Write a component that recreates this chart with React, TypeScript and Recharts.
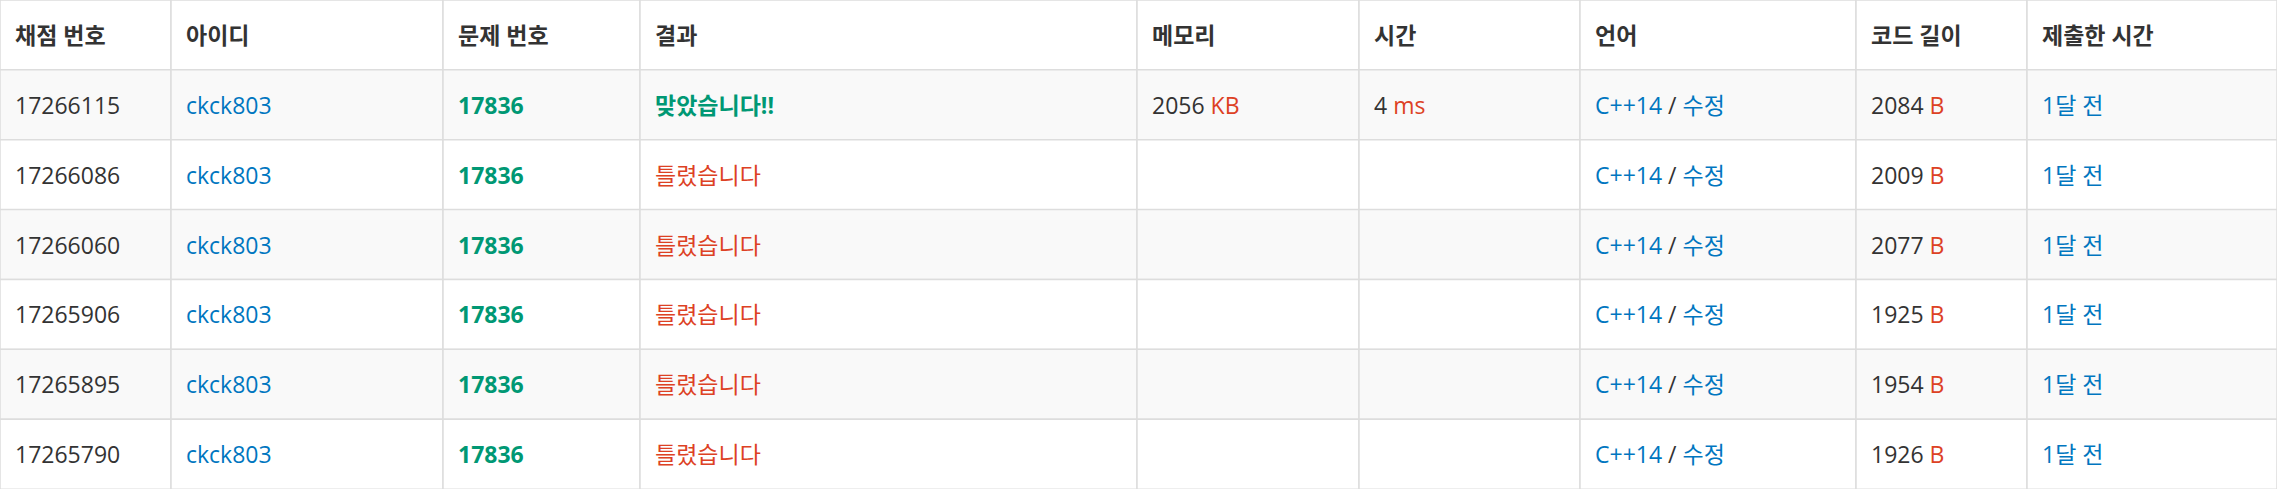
import React from "react";
import { ComposedChart, Bar, XAxis, YAxis, Cell, LabelList } from "recharts";

const headers = ["채점 번호", "아이디", "문제 번호", "결과", "메모리", "시간", "언어", "코드 길이", "제출한 시간"];
const columnWidths = [171, 272, 197, 497, 222, 221, 276, 171, 250];
const submissionIds = ["17266115", "17266086", "17266060", "17265906", "17265895", "17265790"];
const userIds = ["ckck803", "ckck803", "ckck803", "ckck803", "ckck803", "ckck803"];
const problemIds = ["17836", "17836", "17836", "17836", "17836", "17836"];
const results = ["맞았습니다!!", "틀렸습니다", "틀렸습니다", "틀렸습니다", "틀렸습니다", "틀렸습니다"];
const memoryKb = ["2056", "", "", "", "", ""];
const timeMs = ["4", "", "", "", "", ""];
const languages = ["C++14", "C++14", "C++14", "C++14", "C++14", "C++14"];
const codeLengths = ["2084", "2009", "2077", "1925", "1954", "1926"];
const submitTimes = ["1달 전", "1달 전", "1달 전", "1달 전", "1달 전", "1달 전"];

const BLUE = "#0076c0";
const GREEN = "#009874";
const RED = "#dd4124";
const TEXT = "#333333";

type Seg = { t: string; c: string; b?: boolean };

const table: Seg[][][] = [
  headers.map((h) => [{ t: h, c: TEXT, b: true }]),
  ...submissionIds.map((id, i) => [
    [{ t: id, c: TEXT }],
    [{ t: userIds[i], c: BLUE }],
    [{ t: problemIds[i], c: GREEN, b: true }],
    [{ t: results[i], c: i === 0 ? GREEN : RED, b: i === 0 }],
    memoryKb[i] ? [{ t: memoryKb[i] + " ", c: TEXT }, { t: "KB", c: RED }] : [],
    timeMs[i] ? [{ t: timeMs[i] + " ", c: TEXT }, { t: "ms", c: RED }] : [],
    [{ t: languages[i], c: BLUE }, { t: " / ", c: TEXT }, { t: "수정", c: BLUE }],
    [{ t: codeLengths[i] + " ", c: TEXT }, { t: "B", c: RED }],
    [{ t: submitTimes[i], c: BLUE }],
  ]),
];

const rows = table.map((_, r) => {
  const o: any = { row: "r" + r };
  columnWidths.forEach((w, i) => (o["w" + i] = w));
  return o;
});

const rowFill = (r: number) => (r % 2 === 1 ? "#f9f9f9" : "#ffffff");

export default function App() {
  return (
    <div>
      <style>{"body{margin:0}"}</style>
      <ComposedChart
        width={2277}
        height={489}
        data={rows}
        layout="vertical"
        margin={{ top: 0, right: 0, left: 0, bottom: 0 }}
        barCategoryGap={0}
      >
        <XAxis type="number" domain={[0, 2277]} hide />
        <YAxis type="category" dataKey="row" hide />
        {columnWidths.map((_, col) => (
          <Bar key={col} dataKey={"w" + col} stackId="a" isAnimationActive={false} stroke="#dddddd" strokeWidth={1.5}>
            {rows.map((_, r) => (
              <Cell key={r} fill={rowFill(r)} />
            ))}
            <LabelList
              dataKey={"w" + col}
              content={(p: any) => {
                const segs = table[p.index]?.[col] ?? [];
                return (
                  <text
                    x={p.x + 15}
                    y={p.y + p.height / 2}
                    dominantBaseline="central"
                    fontSize={23}
                    fontFamily="'Open Sans', 'Noto Sans CJK KR', sans-serif"
                  >
                    {segs.map((s, k) => (
                      <tspan key={k} fill={s.c} fontWeight={s.b ? 700 : 400} xmlSpace="preserve">
                        {s.t}
                      </tspan>
                    ))}
                  </text>
                );
              }}
            />
          </Bar>
        ))}
      </ComposedChart>
    </div>
  );
}
